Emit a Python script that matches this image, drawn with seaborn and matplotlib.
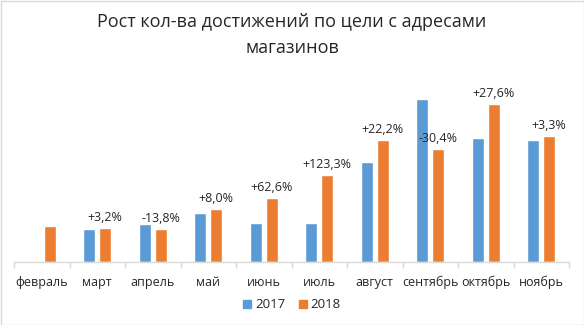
import matplotlib
matplotlib.use("Agg")
import matplotlib.pyplot as plt
import seaborn as sns
import pandas as pd
import numpy as np
from matplotlib.patches import Rectangle

months = ["февраль", "март", "апрель", "май", "июнь", "июль", "август",
          "сентябрь", "октябрь", "ноябрь"]
values_2017 = [np.nan, 33.3, 38.3, 49.3, 39.3, 39.0, 100.3, 163.3, 124.3, 122.3]
values_2018 = [36.3, 34.3, 33.3, 53.3, 64.3, 87.3, 122.3, 113.3, 158.3, 126.3]
growth_labels = ["", "+3,2%", "-13,8%", "+8,0%", "+62,6%", "+123,3%", "+22,2%",
                 "-30,4%", "+27,6%", "+3,3%"]
series = ["2017", "2018"]
colors = ["#5B9BD5", "#ED7D31"]

df = pd.DataFrame({
    "month": months * 2,
    "year": [series[0]] * len(months) + [series[1]] * len(months),
    "value": values_2017 + values_2018,
})

sns.set_theme(style="white")
plt.rcParams["font.family"] = ["Open Sans", "DejaVu Sans"]

fig = plt.figure(figsize=(5.84, 3.25), dpi=100)
ax = fig.add_axes([14 / 584, 1 - 262 / 325, (569 - 14) / 584, 182 / 325])

sns.barplot(data=df, x="month", y="value", hue="year", order=months,
            hue_order=series, palette=colors, width=0.577, gap=0.25,
            errorbar=None, ax=ax, legend=False, saturation=1)

ax.bar_label(ax.containers[1], labels=growth_labels, padding=3,
             fontsize=9, color="#262626")

ax.set_xlim(-0.5, len(months) - 0.5)
ax.set_ylim(0, 182)
ax.set_xlabel("")
ax.set_ylabel("")
ax.set_yticks([])
for s in ["top", "right", "left"]:
    ax.spines[s].set_visible(False)
ax.spines["bottom"].set_color("#d9d9d9")
ax.spines["bottom"].set_linewidth(1)
ax.set_xticks(np.arange(-0.5, len(months), 1.0), minor=True)
ax.tick_params(axis="x", which="minor", length=4, color="#d9d9d9", width=1,
               direction="out", bottom=True)
ax.tick_params(axis="x", which="major", length=0, pad=10, labelsize=9,
               labelcolor="#262626")

fig.text(0.5, 1 - 22 / 325, "Рост кол-ва достижений по цели с адресами",
         ha="center", va="center", fontsize=13, color="#262626")
fig.text(0.5, 1 - 48 / 325, "магазинов",
         ha="center", va="center", fontsize=13, color="#262626")

handles = [Rectangle((0, 0), 1, 1, color=c) for c in colors]
fig.legend(handles, series, loc="center", bbox_to_anchor=(0.5, 1 - 305 / 325),
           ncol=2, frameon=False, fontsize=9.5, handlelength=0.6,
           handleheight=0.6, handletextpad=0.3, columnspacing=1.0)

fig.patches.append(Rectangle((0.5 / 584, 0.5 / 325), 1 - 1 / 584, 1 - 1 / 325,
                             transform=fig.transFigure, fill=False,
                             edgecolor="#d9d9d9", linewidth=1))

fig.savefig("out.png", dpi=100)
